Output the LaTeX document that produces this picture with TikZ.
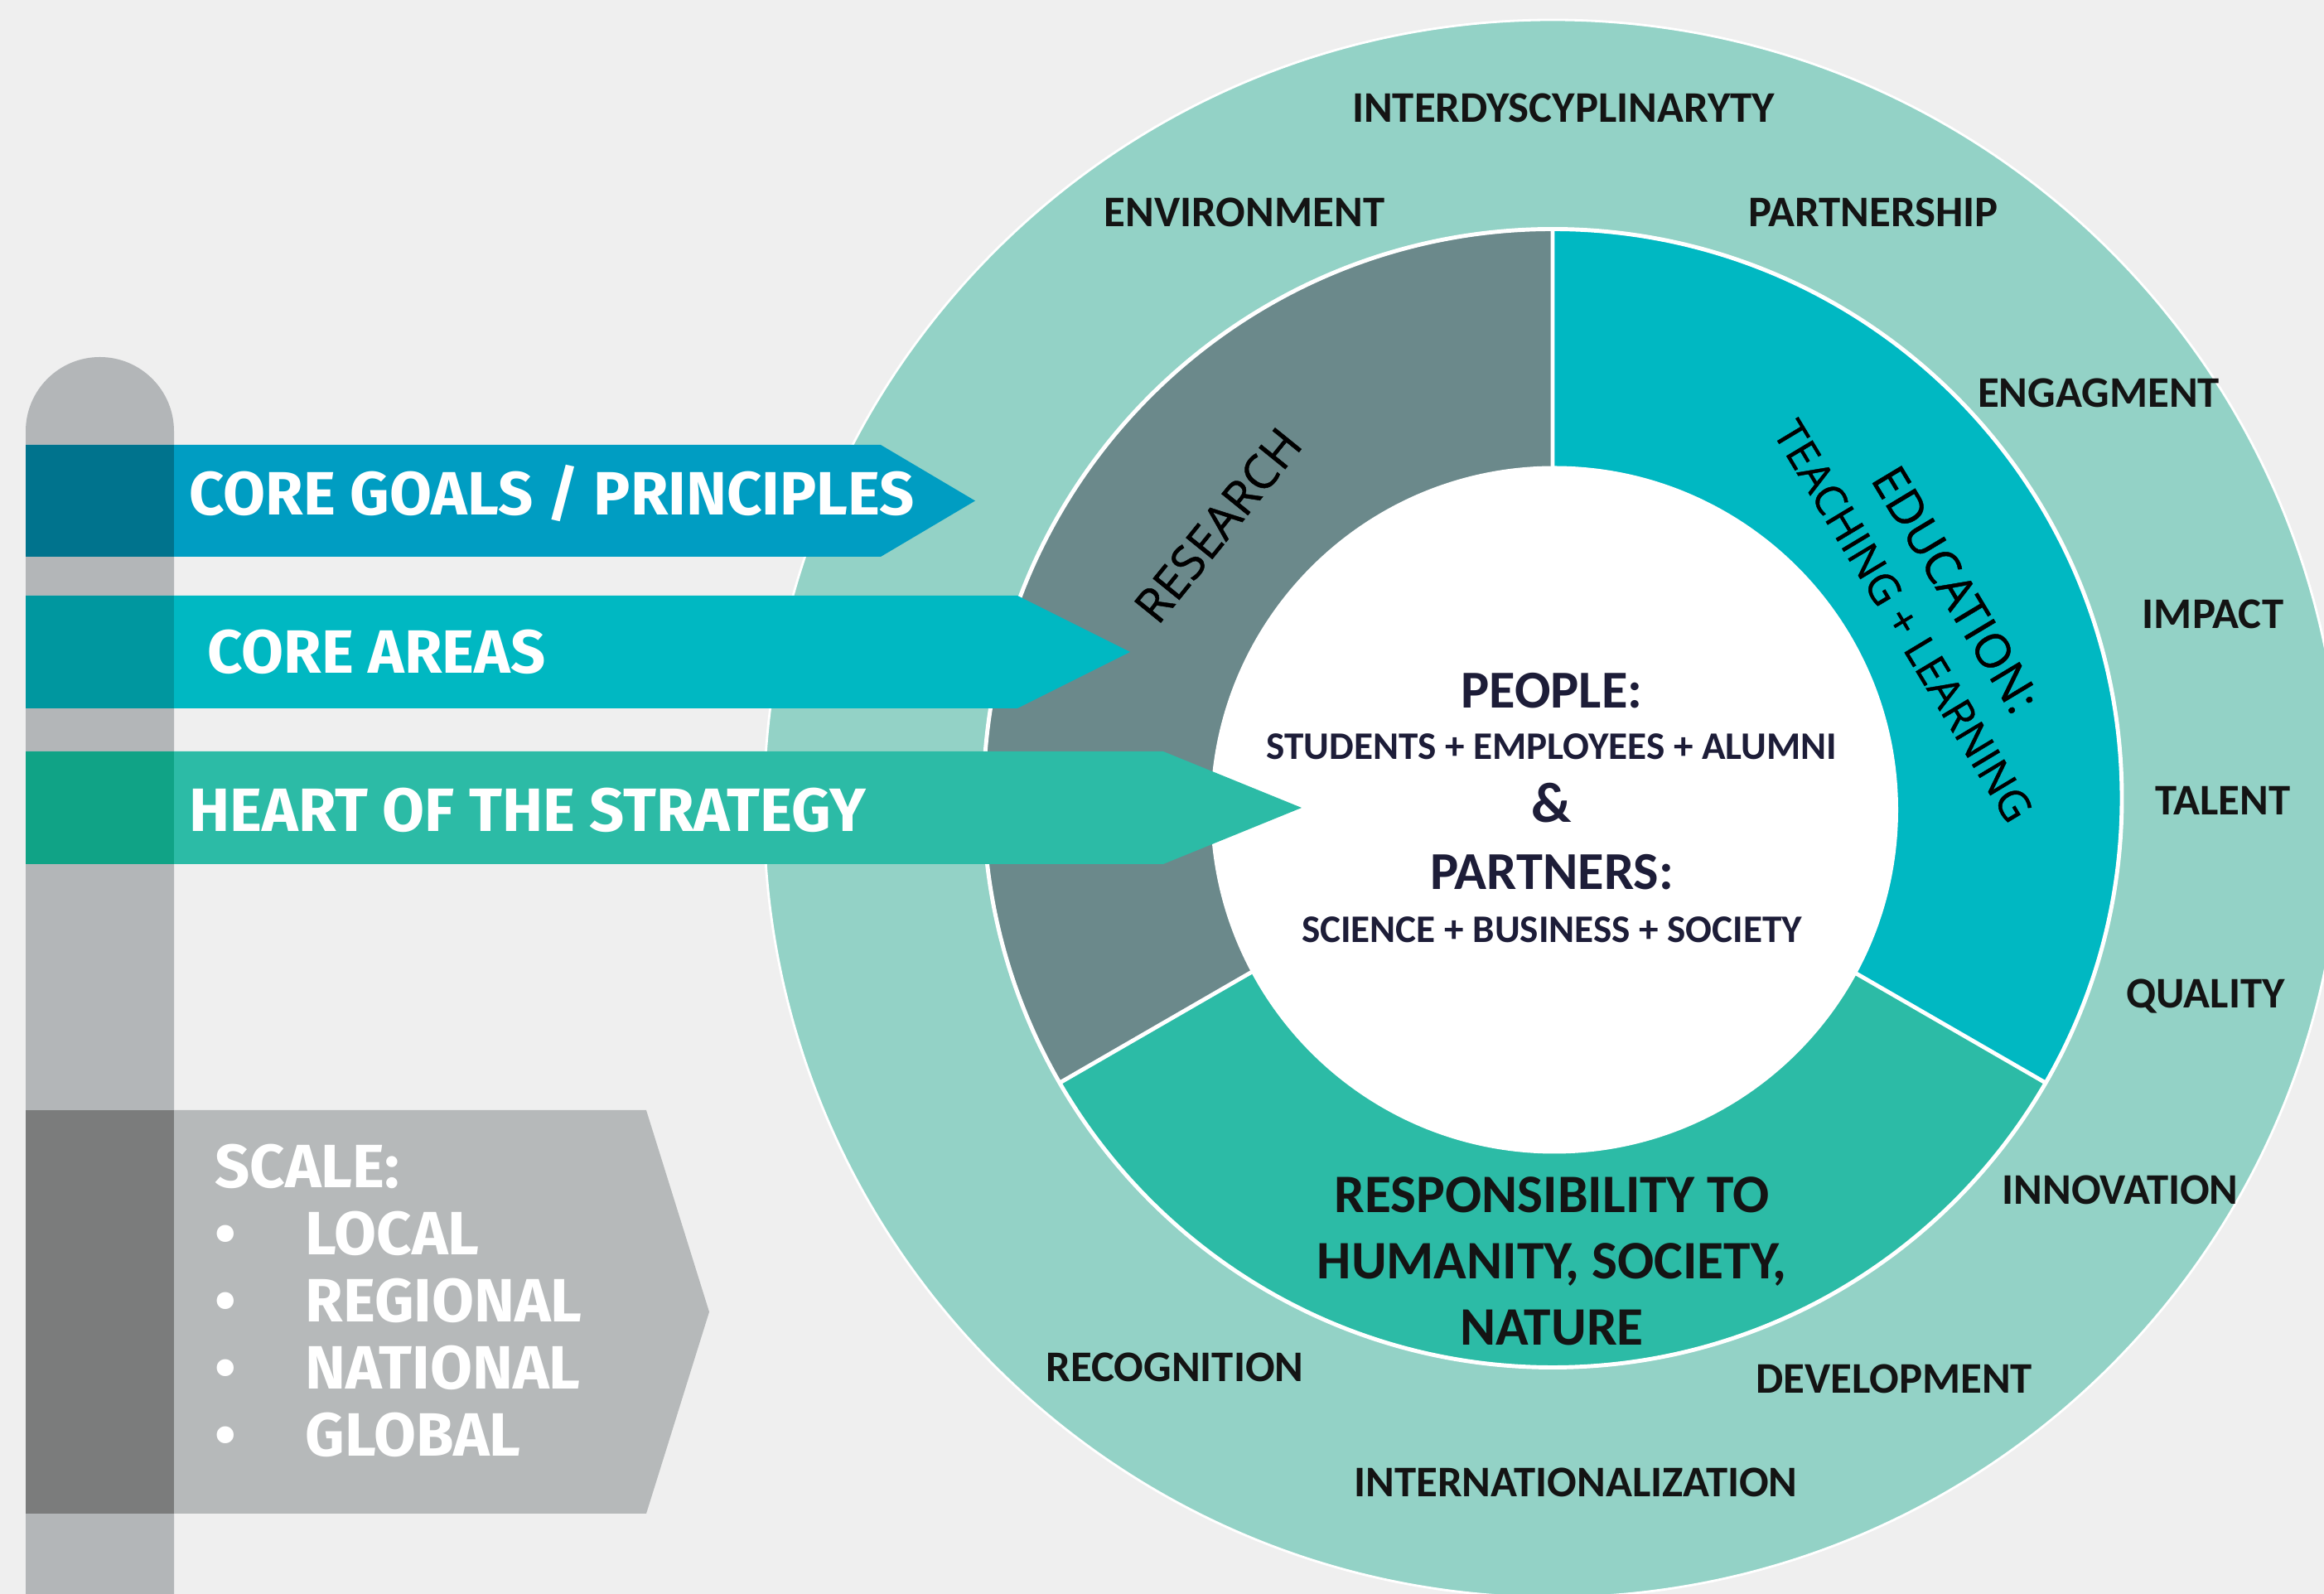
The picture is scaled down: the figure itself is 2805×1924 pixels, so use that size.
\documentclass[tikz,border=0pt]{standalone}
\usepackage{fontspec}
\newfontfamily\signfont{Fira Sans}
\newfontfamily\ringfont{Carlito}
\newfontfamily\areafont{Open Sans}[FakeBold=0.8]

\definecolor{bgcol}{HTML}{EFEFEF}
\definecolor{ringcol}{HTML}{93D2C6}
\definecolor{researchcol}{HTML}{6B898B}
\definecolor{educol}{HTML}{00B8C2}
\definecolor{respcol}{HTML}{2CBBA6}
\definecolor{goalcol}{HTML}{009DC2}
\definecolor{goaldark}{HTML}{00738D}
\definecolor{areadark}{HTML}{00979F}
\definecolor{heartdark}{HTML}{10A386}
\definecolor{polecol}{HTML}{B3B6B8}
\definecolor{scalecol}{HTML}{B6B9BA}
\definecolor{scaledark}{HTML}{7B7C7C}
\definecolor{navy}{HTML}{1D1D38}

\tikzset{
  signtext/.style={inner sep=0pt,anchor=base west,text=white,font=\signfont\bfseries\fontsize{21}{25}\selectfont},
  ringlabel/.style={inner sep=0pt,anchor=base,text=black!92,font=\ringfont\bfseries\fontsize{15}{18}\selectfont},
  peopletext/.style={inner sep=0pt,anchor=base,text=navy,font=\ringfont\bfseries\fontsize{18.3}{22}\selectfont},
  membertext/.style={inner sep=0pt,anchor=base,text=navy,font=\ringfont\bfseries\fontsize{13.4}{16}\selectfont},
  resptext/.style={inner sep=0pt,align=center,text=black!92,font=\ringfont\bfseries\fontsize{18.6}{22.76}\selectfont},
  areatext/.style={inner sep=0pt,text=black,font=\areafont\fontsize{16.3}{20.5}\selectfont}
}

\begin{document}
\begin{tikzpicture}[x=0.01cm,y=0.01cm]
  \useasboundingbox (0,0) rectangle (2805,1924);
  \clip (0,0) rectangle (2805,1924);
  \fill[bgcol] (0,0) rectangle (2805,1924);

  % outer ring
  \fill[ringcol] (1874,948) circle (952);
  \draw[white,line width=0.8pt] (1874,948) circle (952);

  % core areas
  \coordinate (m) at (1874,960.5);
  \fill[researchcol] (m) -- ++(90:687) arc[start angle=90,end angle=210,radius=687] -- cycle;
  \fill[educol] (m) -- ++(-30:687) arc[start angle=-30,end angle=90,radius=687] -- cycle;
  \fill[respcol] (m) -- ++(210:687) arc[start angle=210,end angle=330,radius=687] -- cycle;
  \draw[white,line width=1.4pt] (m) circle (687);
  \draw[white,line width=1.4pt] (m) -- ++(90:687) (m) -- ++(-30:687) (m) -- ++(210:687);
  \fill[white] (1876,946.5) circle (415);

  \node[ringlabel] (interdisc) at (1887,1776) {INTERDYSCYPLINARYTY};
  \node[ringlabel] (environment) at (1502,1650) {ENVIRONMENT};
  \node[ringlabel] (partnership) at (2261,1650) {PARTNERSHIP};
  \node[ringlabel] (engagment) at (2533,1432) {ENGAGMENT};
  \node[ringlabel] (impact) at (2671,1165) {IMPACT};
  \node[ringlabel] (talent) at (2683,940) {TALENT};
  \node[ringlabel] (quality) at (2662,707) {QUALITY};
  \node[ringlabel] (innovation) at (2559,470) {INNOVATION};
  \node[ringlabel] (development) at (2286,242) {DEVELOPMENT};
  \node[ringlabel] (internat) at (1902,117) {INTERNATIONALIZATION};
  \node[ringlabel] (recognition) at (1418,256) {RECOGNITION};

  \node[areatext,rotate=51] (research) at (1470,1290) {RESEARCH};
  \node[areatext,rotate=-59,align=center] (education) at (2330,1194) {EDUCATION:\\{\fontsize{14.6}{20.5}\selectfont TEACHING + LEARNING}};
  \node[resptext] (resp) at (1873,402) {RESPONSIBILITY TO\\HUMANITY, SOCIETY,\\NATURE};

  \node[peopletext] (people) at (1873,1069) {PEOPLE:};
  \node[membertext] (members) at (1873,1007) {STUDENTS + EMPLOYEES + ALUMNI};
  \node[peopletext,font=\ringfont\bfseries\fontsize{19.5}{22}\selectfont] (amp) at (1873,931) {\&};
  \node[peopletext] (partners) at (1873,850) {PARTNERS:};
  \node[membertext] (sectors) at (1873,786) {SCIENCE + BUSINESS + SOCIETY};

  % signpost
  \fill[polecol] (31,0) -- (31,1403.5) arc[start angle=180,end angle=0,radius=89.5] -- (210,0) -- cycle;
  \fill[goalcol] (31,1252) -- (1063,1252) -- (1177,1319.5) -- (1063,1387) -- (31,1387) -- cycle;
  \fill[goaldark] (31,1252) rectangle (210,1387);
  \fill[educol] (31,1069) -- (1228,1069) -- (1364,1137) -- (1228,1205) -- (31,1205) -- cycle;
  \fill[areadark] (31,1069) rectangle (210,1205);
  \fill[respcol] (31,881) -- (1404,881) -- (1571,949) -- (1404,1017) -- (31,1017) -- cycle;
  \fill[heartdark] (31,881) rectangle (210,1017);
  \fill[scalecol] (31,97) -- (780,97) -- (856,340.5) -- (780,584) -- (31,584) -- cycle;
  \fill[scaledark] (31,97) rectangle (210,584);

  \node[signtext] (goals) at (228,1302) {CORE GOALS / PRINCIPLES};
  \node[signtext] (areas) at (250,1111) {CORE AREAS};
  \node[signtext] (heart) at (228,920) {HEART OF THE STRATEGY};
  \node[signtext] (scale) at (259,490) {SCALE:};
  \node[signtext] (local) at (259,409) {\makebox[31pt][l]{\textbullet}LOCAL};
  \node[signtext] (regional) at (259,328) {\makebox[31pt][l]{\textbullet}REGIONAL};
  \node[signtext] (national) at (259,247) {\makebox[31pt][l]{\textbullet}NATIONAL};
  \node[signtext] (global) at (259,166) {\makebox[31pt][l]{\textbullet}GLOBAL};
\end{tikzpicture}
\end{document}
